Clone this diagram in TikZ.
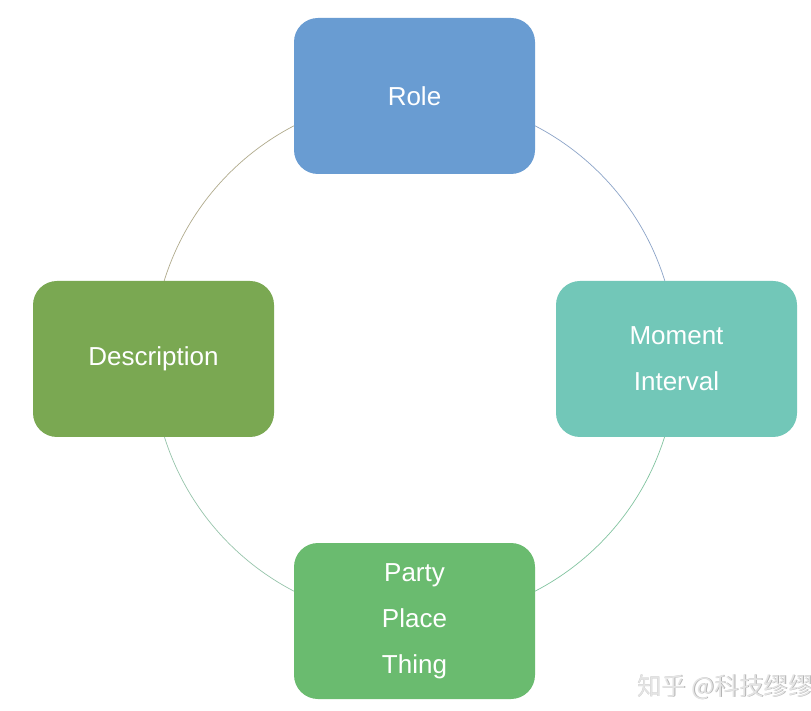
\documentclass[tikz,border=0pt]{standalone}
\usepackage{fontspec}
\setmainfont{Liberation Sans}
\newfontfamily\cjk{Noto Sans CJK SC}
\definecolor{roleblue}{RGB}{105,156,210}
\definecolor{descgreen}{RGB}{122,168,82}
\definecolor{momteal}{RGB}{114,199,184}
\definecolor{pptgreen}{RGB}{106,187,111}
\definecolor{arcTL}{RGB}{176,170,140}
\definecolor{arcTR}{RGB}{140,164,200}
\definecolor{arcBL}{RGB}{150,196,170}
\definecolor{arcBR}{RGB}{130,196,160}
\definecolor{wmfill}{RGB}{228,228,228}
\definecolor{wmshade}{RGB}{180,180,180}
\begin{document}
\begin{tikzpicture}[x=1pt,y=1pt,
  box/.style={rounded corners=24pt, minimum width=241pt, minimum height=156pt,
    inner sep=0pt, text=white, align=center,
    font=\fontsize{26}{46}\selectfont},
  ring/.style={line width=0.7pt},
  wm/.style={anchor=west, inner sep=0pt, font=\cjk\fontsize{24.5}{24.5}\selectfont}]
\useasboundingbox (0,0) rectangle (811,710);
\clip (0,0) rectangle (811,710);
\fill[white] (0,0) rectangle (811,710);
% ring
\coordinate (ctr) at (414.5,351.5);
\coordinate (top) at (414.5,613.5);
\coordinate (lft) at (152.5,351.5);
\coordinate (bot) at (414.5,89.5);
\coordinate (rgt) at (676.5,351.5);
\draw[ring, arcTL] (top) arc[start angle=90, end angle=180, radius=262pt];
\draw[ring, arcBL] (lft) arc[start angle=180, end angle=270, radius=262pt];
\draw[ring, arcBR] (bot) arc[start angle=270, end angle=360, radius=262pt];
\draw[ring, arcTR] (rgt) arc[start angle=0, end angle=90, radius=262pt];
% boxes
\node[box, fill=roleblue] (role) at (414.5,614) {Role};
\node[box, fill=descgreen] (desc) at (153.5,351) {Description};
\node[box, fill=momteal] (moment) at (676.5,351) {Moment\\Interval};
\node[box, fill=pptgreen] (ppt) at (414.5,89) {Party\\Place\\Thing};
% watermark
\node[wm, text=wmshade] (wmsh) at (637.7,22.3) {知乎 @科技缪缪};
\node[wm, text=wmfill] (wmtx) at (637,23) {知乎 @科技缪缪};
\end{tikzpicture}
\end{document}
